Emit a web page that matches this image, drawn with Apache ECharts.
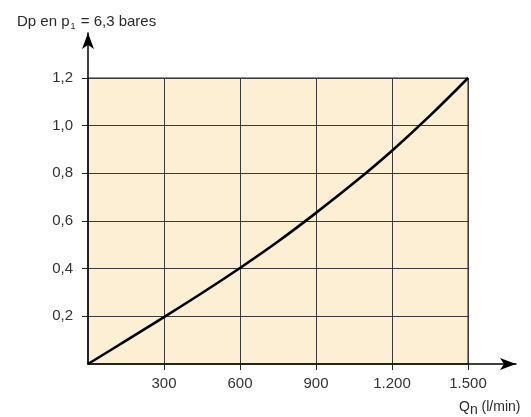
<!DOCTYPE html>
<html><head><meta charset="utf-8">
<script src="https://cdn.jsdelivr.net/npm/echarts@6/dist/echarts.min.js"></script>
<style>html,body{margin:0;padding:0;background:#fff}#c{width:531px;height:417px}</style>
</head><body><div id="c"></div>
<script>
var flowQ = [0, 150, 300, 450, 600, 750, 900, 1050, 1200, 1350, 1500];
var deltaP = [0, 0.098, 0.197, 0.298, 0.403, 0.514, 0.634, 0.76, 0.895, 1.042, 1.2];
var xTicks = [300, 600, 900, 1200, 1500];
var yTicks = [0.2, 0.4, 0.6, 0.8, 1.0, 1.2];
var xTickLabels = ['300', '600', '900', '1.200', '1.500'];
var yTickLabels = ['0,2', '0,4', '0,6', '0,8', '1,0', '1,2'];

var font = 'Liberation Sans, Arial, Helvetica, sans-serif';
var chart = echarts.init(document.getElementById('c'));
chart.setOption({
  animation: false,
  backgroundColor: '#fff',
  title: [{
    left: 12, top: 8,
    text: 'Dp en p{sub|1} = 6,3 bares',
    textStyle: {fontFamily: font, fontSize: 15, fontWeight: 'normal', color: '#2a2a2a',
      rich: {sub: {fontFamily: font, fontSize: 9, color: '#2a2a2a', padding: [9, 1, 0, 1]}}}
  }, {
    left: 454, top: 392,
    text: 'Q{sub|n} (l/min)',
    textStyle: {fontFamily: font, fontSize: 14, fontWeight: 'normal', color: '#2a2a2a',
      rich: {sub: {fontFamily: font, fontSize: 14, color: '#2a2a2a', padding: [6, 0, 0, 0]}}}
  }],
  grid: [
    {left: 88, right: 63, top: 78, bottom: 53, show: true, backgroundColor: '#FDEFD3', borderColor: '#222', borderWidth: 1},
    {left: 88, right: 15, top: 33, bottom: 53, show: false}
  ],
  xAxis: [{
    gridIndex: 0, type: 'value', min: 0, max: 1500, interval: 300,
    axisLine: {show: false},
    axisTick: {show: true, length: 6, customValues: xTicks, lineStyle: {color: '#222'}},
    axisLabel: {show: true, margin: 12, customValues: xTicks, fontFamily: font, fontSize: 15, color: '#333',
      formatter: function (v) { return xTickLabels[xTicks.indexOf(v)]; }},
    splitLine: {show: true, lineStyle: {color: '#3a3a3a', width: 1}}
  }, {
    gridIndex: 1, type: 'value', min: 0, max: 1,
    axisLine: {show: true, symbol: ['none', 'arrow'], symbolSize: [9, 16], lineStyle: {color: '#000', width: 1.5}},
    axisTick: {show: false}, axisLabel: {show: false}, splitLine: {show: false}
  }],
  yAxis: [{
    gridIndex: 0, type: 'value', min: 0, max: 1.2, interval: 0.2,
    axisLine: {show: false},
    axisTick: {show: true, length: 6, customValues: yTicks, lineStyle: {color: '#222'}},
    axisLabel: {show: true, margin: 15, customValues: yTicks, fontFamily: font, fontSize: 15, color: '#333',
      formatter: function (v) {
        for (var i = 0; i < yTicks.length; i++) if (Math.abs(yTicks[i] - v) < 1e-6) return yTickLabels[i];
        return '';
      }},
    splitLine: {show: true, lineStyle: {color: '#3a3a3a', width: 1}}
  }, {
    gridIndex: 1, type: 'value', min: 0, max: 1,
    axisLine: {show: true, symbol: ['none', 'arrow'], symbolSize: [9, 16], lineStyle: {color: '#000', width: 1.5}},
    axisTick: {show: false}, axisLabel: {show: false}, splitLine: {show: false}
  }],
  series: [{
    type: 'line', xAxisIndex: 0, yAxisIndex: 0,
    data: flowQ.map(function (q, i) { return [q, deltaP[i]]; }),
    smooth: 0.4, showSymbol: false, symbol: 'none',
    lineStyle: {color: '#000', width: 2.6}
  }]
});
</script></body></html>
